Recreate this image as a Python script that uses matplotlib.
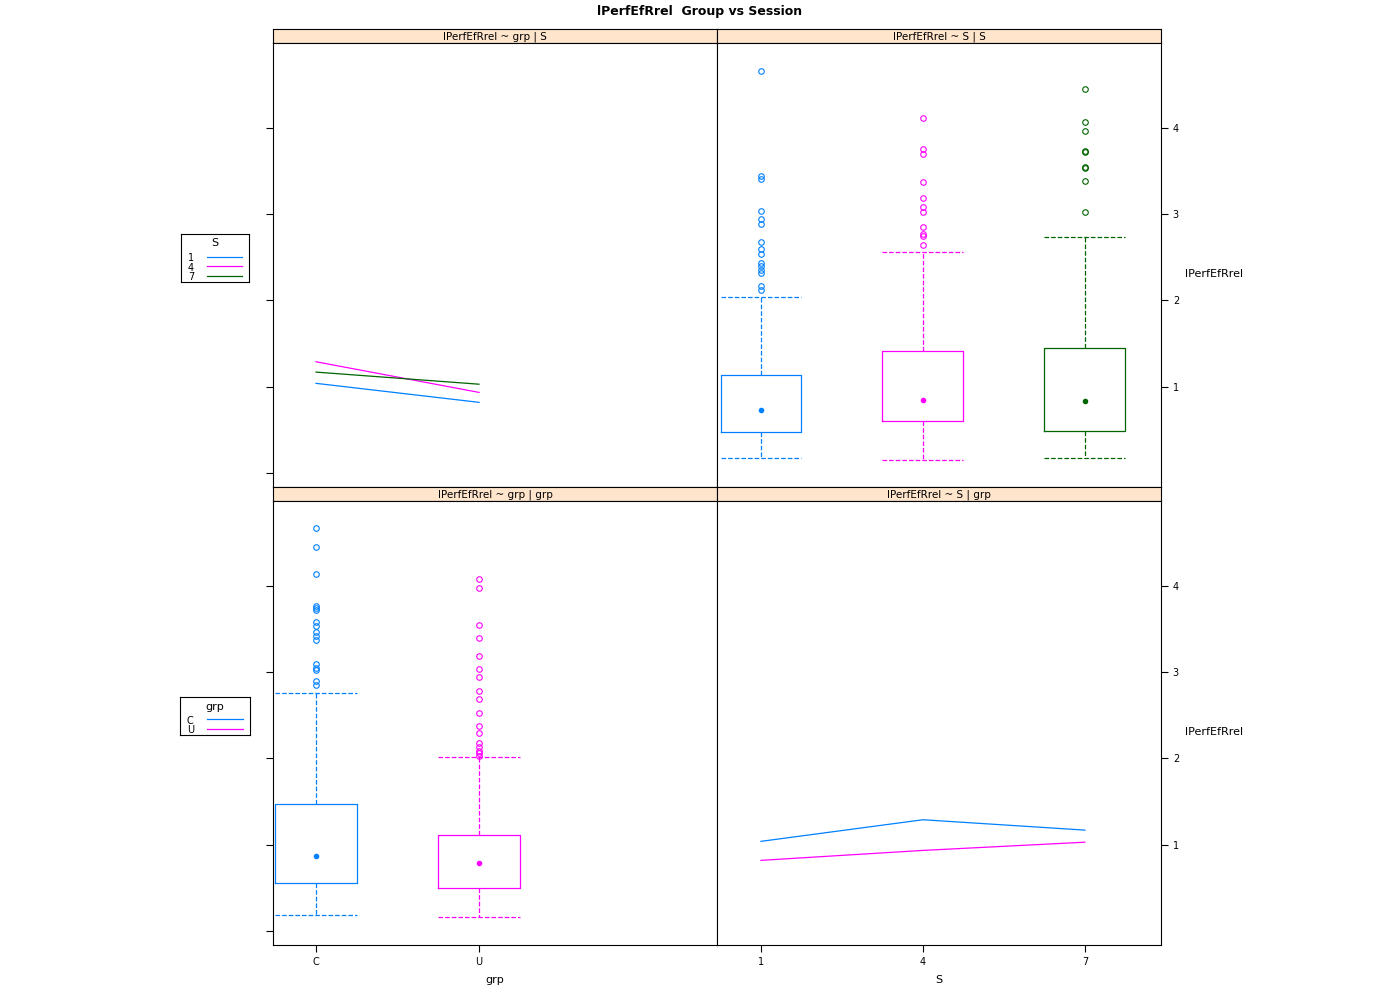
import matplotlib.pyplot as plt

# ---- data ----
groups = ["C", "U"]
sessions = [1, 4, 7]
group_cols = ["#0080ff", "#ff00ff"]
session_cols = ["#0080ff", "#ff00ff", "#006400"]

# mean lPerfEfRrel per group across sessions
mean_C = [1.04, 1.29, 1.17]
mean_U = [0.82, 0.935, 1.03]

# boxplot stats by session: whislo, q1, med, q3, whishi
box_S1 = [0.18, 0.48, 0.73, 1.14, 2.04]
box_S4 = [0.15, 0.60, 0.85, 1.41, 2.56]
box_S7 = [0.17, 0.49, 0.83, 1.45, 2.73]
out_S1 = [4.66, 3.44, 3.40, 3.03, 2.94, 2.88, 2.68, 2.59, 2.54, 2.43, 2.40, 2.35, 2.32, 2.17, 2.12]
out_S4 = [4.11, 3.75, 3.70, 3.37, 3.19, 3.08, 3.02, 2.85, 2.77, 2.74, 2.64]
out_S7 = [4.45, 4.07, 3.96, 3.73, 3.72, 3.55, 3.53, 3.38, 3.02]

# boxplot stats by group
box_C = [0.185, 0.556, 0.866, 1.468, 2.758]
box_U = [0.159, 0.495, 0.791, 1.109, 2.013]
out_C = [4.67, 4.45, 4.13, 3.76, 3.74, 3.72, 3.58, 3.53, 3.46, 3.42, 3.37,
         3.09, 3.05, 3.02, 2.90, 2.85]
out_U = [4.08, 3.97, 3.55, 3.39, 3.19, 3.03, 2.94, 2.78, 2.69, 2.52, 2.38,
         2.30, 2.18, 2.13, 2.09, 2.06, 2.03]

yvar = "lPerfEfRrel"
strip_bg = "#ffe5cc"

fig = plt.figure(figsize=(14, 10), dpi=100)
W, H = 1400.0, 1000.0


def px_axes(x0, y0, x1, y1):
    return fig.add_axes([x0 / W, 1 - y1 / H, (x1 - x0) / W, (y1 - y0) / H])


def strip(x0, y0, x1, y1, text):
    s = px_axes(x0, y0, x1, y1)
    s.set_facecolor(strip_bg)
    s.set_xticks([])
    s.set_yticks([])
    for sp in s.spines.values():
        sp.set_linewidth(0.8)
    s.text(0.5, 0.45, text, ha="center", va="center", fontsize=7.5, transform=s.transAxes)


def panel(x0, y0, x1, y1, side):
    ax = px_axes(x0, y0, x1, y1)
    ax.set_ylim(-0.16, 4.98)
    for sp in ax.spines.values():
        sp.set_linewidth(0.8)
    if side == "left":
        ax.set_yticks([0, 1, 2, 3, 4])
        ax.tick_params(axis="y", left=True, labelleft=False, direction="out", length=5)
    else:
        ax.set_yticks([1, 2, 3, 4])
        ax.tick_params(axis="y", left=False, right=True, labelleft=False, labelright=True,
                       direction="out", length=5, labelsize=7)
    return ax


def boxes(ax, positions, stats, outs, cols, width):
    for p, st, o, c in zip(positions, stats, outs, cols):
        d = dict(whislo=st[0], q1=st[1], med=st[2], q3=st[3], whishi=st[4], fliers=o)
        ax.bxp([d], positions=[p], widths=width, capwidths=width, showfliers=True,
               boxprops=dict(color=c, linewidth=0.9),
               whiskerprops=dict(color=c, linestyle="--", linewidth=0.9),
               capprops=dict(color=c, linestyle="--", linewidth=0.9),
               medianprops=dict(linewidth=0),
               flierprops=dict(marker="o", markerfacecolor="none", markeredgecolor=c,
                               markersize=4, markeredgewidth=0.8))
        ax.plot([p], [st[2]], "o", color=c, markersize=3)


# top-left: lines by session, x = grp
strip(273, 29, 717, 43, yvar + " ~ grp | S")
ax1 = panel(273, 43, 717, 487, "left")
gpos = [1, 2]
for i, s in enumerate(sessions):
    ax1.plot(gpos, [mean_C[i], mean_U[i]], color=session_cols[i], linewidth=0.9)
ax1.set_xlim(0.736, 3.46)
ax1.set_xticks([])

# top-right: boxplots by session
strip(717, 29, 1161, 43, yvar + " ~ S | S")
ax2 = panel(717, 43, 1161, 487, "right")
boxes(ax2, sessions, [box_S1, box_S4, box_S7], [out_S1, out_S4, out_S7], session_cols, 1.5)
ax2.set_xlim(0.185, 8.41)
ax2.set_xticks([])
ax2.text(1.055, 0.48, yvar, transform=ax2.transAxes, fontsize=8, ha="left", va="center")

# bottom-left: boxplots by group
strip(273, 487, 717, 501, yvar + " ~ grp | grp")
ax3 = panel(273, 501, 717, 945, "left")
boxes(ax3, gpos, [box_C, box_U], [out_C, out_U], group_cols, 0.5)
ax3.set_xlim(0.736, 3.46)
ax3.set_xticks(gpos)
ax3.set_xticklabels(groups)
ax3.tick_params(axis="x", direction="out", length=5, labelsize=7)
ax3.set_xlabel("grp", fontsize=8, labelpad=6)

# bottom-right: lines by group, x = S
strip(717, 487, 1161, 501, yvar + " ~ S | grp")
ax4 = panel(717, 501, 1161, 945, "right")
ax4.plot(sessions, mean_C, color=group_cols[0], linewidth=0.9)
ax4.plot(sessions, mean_U, color=group_cols[1], linewidth=0.9)
ax4.set_xlim(0.185, 8.41)
ax4.set_xticks(sessions)
ax4.set_xticklabels([str(s) for s in sessions])
ax4.tick_params(axis="x", direction="out", length=5, labelsize=7)
ax4.set_xlabel("S", fontsize=8, labelpad=6)
ax4.text(1.055, 0.48, yvar, transform=ax4.transAxes, fontsize=8, ha="left", va="center")


def legend_box(x0, y0, x1, y1, title, labels, cols, ty, ly):
    lg = px_axes(x0, y0, x1, y1)
    lg.set_xlim(0, 1)
    lg.set_ylim(0, 1)
    lg.set_xticks([])
    lg.set_yticks([])
    for sp in lg.spines.values():
        sp.set_linewidth(0.8)
    lg.text(0.5, ty, title, ha="center", va="center", fontsize=8)
    for lab, c, y in zip(labels, cols, ly):
        lg.text(0.1, y, lab, ha="left", va="center", fontsize=7)
        lg.plot([0.38, 0.9], [y + 0.03, y + 0.03], color=c, linewidth=0.9)


legend_box(181, 234, 249, 282, "S", [str(s) for s in sessions], session_cols,
           0.81, [0.50, 0.30, 0.10])
legend_box(180, 697, 250, 735, "grp", groups, group_cols, 0.74, [0.38, 0.12])

fig.text(0.5, 1 - 12 / H, yvar + "  Group vs Session", ha="center", va="center",
         fontsize=9, fontweight="bold")

fig.savefig("out.png", dpi=100)
